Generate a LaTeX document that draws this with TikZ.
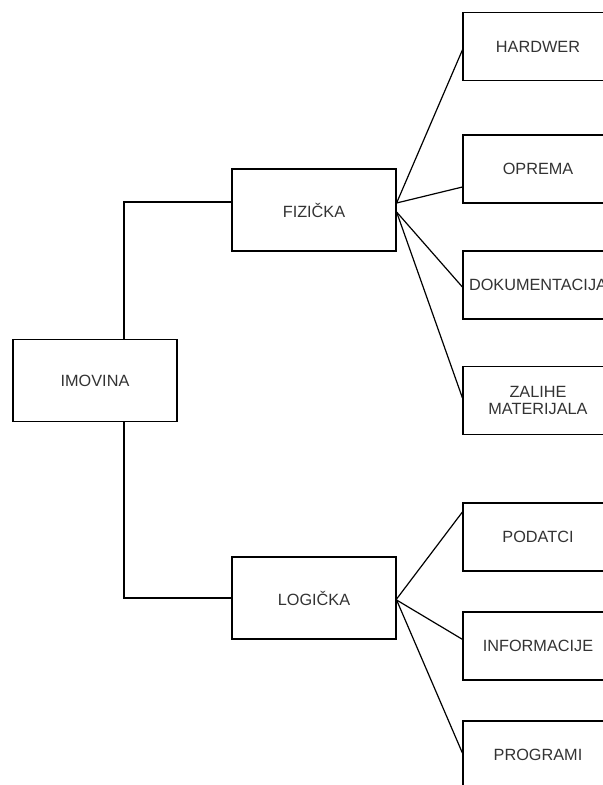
\documentclass[tikz,border=0pt]{standalone}
\usepackage{fontspec}
\setmainfont{Liberation Sans}

\begin{document}
\begin{tikzpicture}[
    x=0.75pt, y=-0.75pt,
    box/.style={
        rectangle,
        minimum width=123pt,
        minimum height=61.5pt,
        draw=black,
        line width=0.9pt,
        text=black!80,
        align=center,
        font=\fontsize{12.2}{13.1}\selectfont
    },
    leaf/.style={box, minimum width=112.5pt, minimum height=51pt},
    link/.style={line width=0.9pt}
]

\clip (0,0) rectangle (603,785);

\node[box] (imo) at (95,380.5) {IMOVINA};
\node[box] (fiz) at (314,210) {FIZIČKA};
\node[box] (log) at (314,598) {LOGIČKA};

\node[leaf] (hard) at (538,46.5) {HARDWER};
\node[leaf] (opr) at (538,169) {OPREMA};
\node[leaf] (dok) at (538,285) {DOKUMENTACIJA};
\node[leaf] (zal) at (538,400.5) {ZALIHE\\MATERIJALA};

\node[leaf] (pod) at (538,537) {PODATCI};
\node[leaf] (inf) at (538,646) {INFORMACIJE};
\node[leaf] (prog) at (538,755) {PROGRAMI};

% Imovina
\draw[link] ([xshift=21.75pt]imo.north) |- ([yshift=6pt]fiz.west);
\draw[link] ([xshift=21.75pt]imo.south) |- (log.west);

% Fizicka
\draw[link] ([yshift=5.25pt]fiz.east) -- ([yshift=-2.6pt]hard.west);
\draw[link] ([yshift=5.25pt]fiz.east) -- ([yshift=-13.5pt]opr.west);
\draw[link] ([yshift=-1.5pt]fiz.east) -- ([yshift=-1.5pt]dok.west);
\draw[link] ([yshift=-1.5pt]fiz.east) -- ([yshift=2pt]zal.west);

% Logicka
\draw[link] ([yshift=-0.75pt]log.east) -- ([yshift=18.75pt]pod.west);
\draw[link] ([yshift=-1.5pt]log.east) -- ([yshift=5pt]inf.west);
\draw[link] ([yshift=-1.5pt]log.east) -- ([yshift=1.5pt]prog.west);

\end{tikzpicture}
\end{document}
